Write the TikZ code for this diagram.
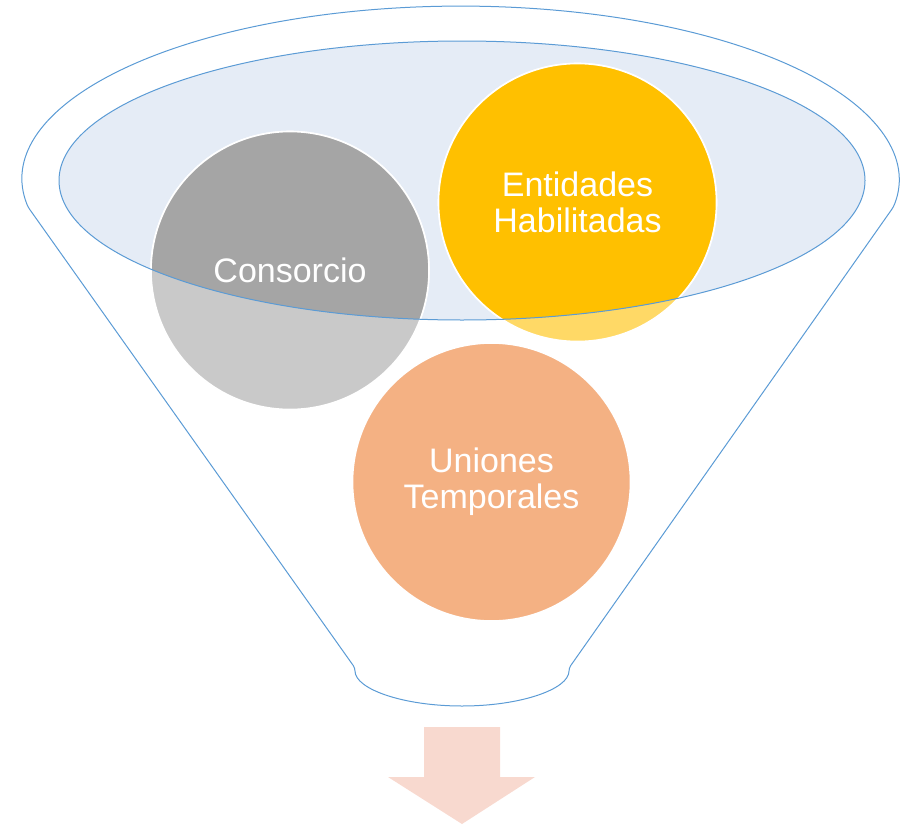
\documentclass[tikz,border=0pt]{standalone}
\usepackage{fontspec}
\setmainfont{Liberation Sans}
\definecolor{rimblue}{HTML}{5B9BD5}
\definecolor{rimfill}{HTML}{E5ECF6}
\definecolor{accgray}{HTML}{A5A5A5}
\definecolor{accgold}{HTML}{FFC000}
\definecolor{accorange}{HTML}{ED7D31}
\definecolor{arrowpink}{HTML}{F8D9CF}
\tikzset{
  bubble/.style={circle, draw=white, line width=1.6pt, minimum size=278pt, inner sep=0pt},
  caption/.style={text=white, align=center, font=\fontsize{34}{36}\selectfont},
  funnel/.style={draw=rimblue, line width=1pt, line join=round}
}

\begin{document}
\begin{tikzpicture}[x=1pt, y=-1pt]
    \useasboundingbox (0,0) rectangle (910,827);
    % funnel body and rim
    \draw[funnel, rounded corners=3pt] (28,207) arc[start angle=171.1, end angle=368.9, x radius=438, y radius=174]
        -- (569,668) arc[start angle=0, end angle=180, x radius=107, y radius=38] -- cycle;
    \coordinate (rim) at (462,180.5);
    \fill[rimfill] (rim) ellipse[x radius=403, y radius=139.5];
    % bubbles, paler outside the rim
    \node[bubble, fill=accgray, fill opacity=0.6] (cons) at (290,270.5) {};
    \node[bubble, fill=accgold, fill opacity=0.6] (ent) at (577.5,202.5) {};
    \node[bubble, fill=accorange, fill opacity=0.6] (uni) at (491.5,482) {};
    \begin{scope}
        \clip (rim) ellipse[x radius=403, y radius=139.5];
        \node[bubble, fill=accgray] at (cons) {};
        \node[bubble, fill=accgold] at (ent) {};
    \end{scope}
    \draw[funnel] (rim) ellipse[x radius=403, y radius=139.5];
    \node[caption] (consText) at (cons) {Consorcio};
    \node[caption] (entText) at (ent) {Entidades\\Habilitadas};
    \node[caption] (uniText) at (uni) {Uniones\\Temporales};
    % output arrow
    \fill[arrowpink] (424,727) -- (500,727) -- (500,777) -- (535,777) -- (462,824)
        -- (388,777) -- (424,777) -- cycle;
\end{tikzpicture}
\end{document}
